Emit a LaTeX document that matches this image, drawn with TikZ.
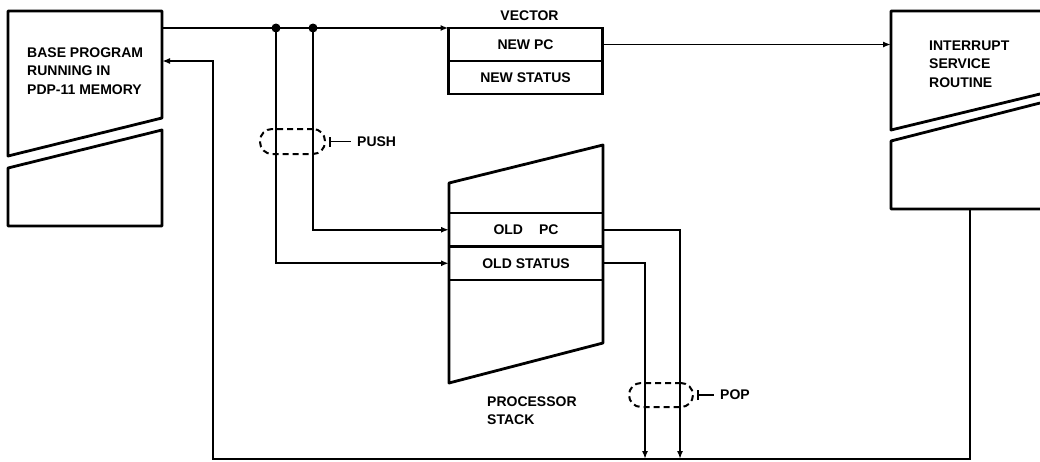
\documentclass[tikz,border=0pt]{standalone}
\usepackage{fontspec}
\setmainfont{Liberation Sans}
\usetikzlibrary{arrows.meta, positioning, calc}

\tikzset{
  frame/.style={line width=2.8pt, line join=round},
  row/.style={draw, line width=2.8pt, minimum width=154pt, minimum height=33pt,
    inner sep=0pt, outer sep=0pt, font=\bfseries\fontsize{14}{17}\selectfont},
  lbl/.style={inner sep=0pt, align=left, font=\bfseries\fontsize{14}{18.5}\selectfont},
  link/.style={line width=1.8pt},
  tip/.style={-{Latex[length=8pt,width=6pt]}},
  grp/.style={draw, dash pattern=on 6pt off 4pt, line width=2pt,
    rounded corners=12pt, inner sep=0pt},
  dot/.style={circle, fill, inner sep=0pt, minimum size=9pt}
}

\begin{document}
\begin{tikzpicture}[x=1pt, y=-1pt]
  \useasboundingbox (0,0) rectangle (1040,461);

  % base program in memory
  \draw[frame] (8,11) -- (162,11) -- (162,118) -- (8,156) -- cycle;
  \draw[frame] (8,168) -- (162,130) -- (162,226) -- (8,226) -- cycle;
  \node[lbl, anchor=west] (bp) at (27,71) {BASE PROGRAM\\RUNNING IN\\PDP-11 MEMORY};

  % interrupt service routine (runs off the right edge)
  \draw[frame] (1040,11) -- (891,11) -- (891,130) -- (1040,94);
  \draw[frame] (1040,103) -- (891,141) -- (891,209) -- (1040,209);
  \node[lbl, anchor=west] (isr) at (929,64) {INTERRUPT\\SERVICE\\ROUTINE};

  % vector
  \node[row] (npc) at (525.5,44.5) {NEW PC};
  \node[row, below=0pt of npc] (nst) {NEW STATUS};
  \node[lbl, anchor=base] (vec) at (529.5,20) {VECTOR};

  % processor stack
  \draw[frame] (449,183) -- (603,145) -- (603,343) -- (449,383) -- cycle;
  \node[row, minimum height=33.5pt] (opc) at (526,229.75) {OLD\hspace{16pt}PC};
  \node[row, minimum height=33.5pt, below=0pt of opc] (ost) {OLD STATUS};
  \node[lbl, anchor=west] (stk) at (487,410.5) {PROCESSOR\\STACK};

  % interrupt: base program -> vector, push PC and status
  \coordinate (bpout) at (162,28);
  \coordinate (j1) at (276,28);
  \coordinate (j2) at (313,28);
  \draw[link, tip] (bpout) -- (npc.north west);
  \node[dot] (d1) at (j1) {};
  \node[dot] (d2) at (j2) {};
  \draw[link, tip] (j2) |- (opc.west);
  \draw[link, tip] (j1) |- (ost.west);

  \node[grp, minimum width=65pt, minimum height=25pt] (push) at (292.5,141.5) {};
  \node[lbl, anchor=west] (pushlbl) at (357,141.5) {PUSH};
  \draw[link, {Bar[width=10pt]}-, shorten >=6pt] ([xshift=3pt]push.east) -- (pushlbl.west);

  % new PC -> interrupt service routine
  \coordinate (isrin) at (891,44.5);
  \draw[link, tip] (npc.east) -- (isrin);

  % pop PC and status back down to the return line
  \coordinate (r1) at (645,459);
  \coordinate (r2) at (680,459);
  \draw[link, tip] (ost.east) -| (r1);
  \draw[link, tip] (opc.east) -| (r2);

  \node[grp, minimum width=64pt, minimum height=24pt] (pop) at (661,395) {};
  \node[lbl, anchor=west] (poplbl) at (720,395) {POP};
  \draw[link, {Bar[width=10pt]}-, shorten >=6pt] ([xshift=3pt]pop.east) -- (poplbl.west);

  % return to the base program
  \coordinate (isrout) at (970,209);
  \coordinate (corner) at (213,459);
  \coordinate (bpin) at (162,61);
  \draw[link, tip] (isrout) |- (corner) |- (bpin);
\end{tikzpicture}
\end{document}
